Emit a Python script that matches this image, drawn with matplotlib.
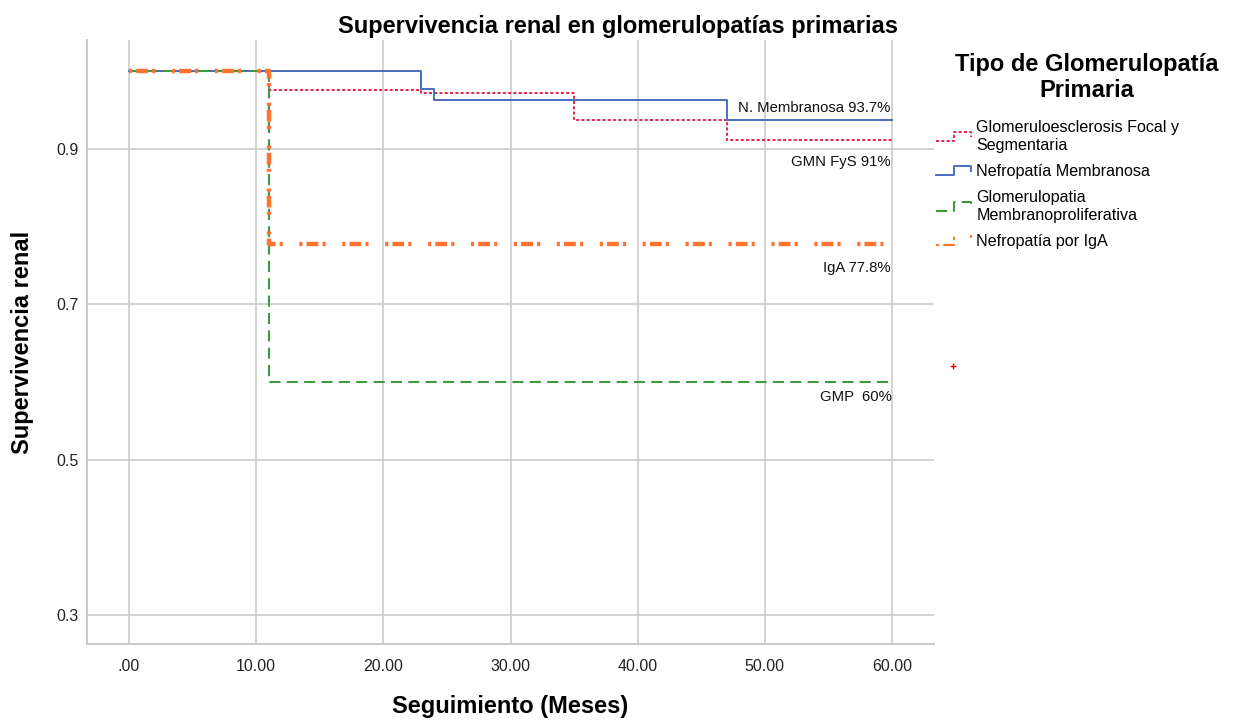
import matplotlib
matplotlib.use('Agg')
import matplotlib.pyplot as plt
from matplotlib.legend_handler import HandlerLine2D
from matplotlib.lines import Line2D

plt.rcParams['font.family'] = ['Liberation Sans', 'DejaVu Sans']
plt.rcParams['lines.scale_dashes'] = False

# ---- data ----
months_fys = [0, 11, 23, 35, 47, 60]
surv_fys = [1.0, 0.976, 0.972, 0.937, 0.911, 0.911]

months_mem = [0, 23, 24, 47, 60]
surv_mem = [1.0, 0.977, 0.963, 0.937, 0.937]

months_gmp = [0, 11, 60]
surv_gmp = [1.0, 0.600, 0.600]

months_iga = [0, 11, 60]
surv_iga = [1.0, 0.778, 0.778]

labels = ["Glomeruloesclerosis Focal y\nSegmentaria",
          "Nefropatía Membranosa",
          "Glomerulopatia\nMembranoproliferativa",
          "Nefropatía por IgA"]
legend_title = "Tipo de Glomerulopatía\nPrimaria"

x_ticks = [0, 10, 20, 30, 40, 50, 60]
x_ticklabels = [".00", "10.00", "20.00", "30.00", "40.00", "50.00", "60.00"]
y_ticks = [0.3, 0.5, 0.7, 0.9]
y_ticklabels = ["0.3", "0.5", "0.7", "0.9"]

annotations = [("N. Membranosa 93.7%", 59.9, 0.953),
               ("GMN FyS 91%", 59.9, 0.883),
               ("IgA 77.8%", 59.9, 0.747),
               ("GMP  60%", 60.0, 0.581)]

# ---- figure ----
W, H = 1236, 723
fig = plt.figure(figsize=(W/100, H/100), dpi=100)
ax = fig.add_axes([87/W, 1-644/H, (934-87)/W, (644-40)/H])

c_fys = '#e8254f'
c_mem = '#4c6dbf'
c_gmp = '#3f9a3f'
c_iga = '#ff7331'

l_fys, = ax.step(months_fys, surv_fys, where='post', color=c_fys, lw=1.4,
                 dashes=(2.2, 1.6), zorder=3)
l_mem, = ax.step(months_mem, surv_mem, where='post', color=c_mem, lw=1.4, zorder=3)
l_gmp, = ax.step(months_gmp, surv_gmp, where='post', color=c_gmp, lw=1.5,
                 dashes=(8, 4.5), zorder=4)
l_iga, = ax.step(months_iga, surv_iga, where='post', color=c_iga, lw=3.2,
                 dashes=(2.2, 3, 8.5, 3, 2.2, 12), zorder=5)

ax.set_xlim(-3.3, 63.3)
ax.set_ylim(0.263, 1.04)
ax.set_xticks(x_ticks)
ax.set_xticklabels(x_ticklabels, fontsize=11.5)
ax.set_yticks(y_ticks)
ax.set_yticklabels(y_ticklabels, fontsize=11.5)
ax.tick_params(length=0, pad=6, colors='#222222')
ax.tick_params(axis='x', pad=11)
ax.grid(True, color='#c8c8c8', lw=1.1, zorder=0)
ax.set_axisbelow(True)
for s in ['top', 'right']:
    ax.spines[s].set_visible(False)
for s in ['left', 'bottom']:
    ax.spines[s].set_color('#c8c8c8')
    ax.spines[s].set_linewidth(1.4)

for txt, xx, yy in annotations:
    ax.text(xx, yy, txt, ha='right', va='center', fontsize=10.7, color='#111111')

# stray censor mark outside plot
ax.plot([64.8], [0.62], marker='+', color='red', ms=5, mew=1, clip_on=False)

fig.text(0.5, 1-26/H, "Supervivencia renal en glomerulopatías primarias",
         ha='center', va='center', fontsize=17, fontweight='bold')
fig.text(510/W, 1-706/H, "Seguimiento (Meses)",
         ha='center', va='center', fontsize=17, fontweight='bold')
fig.text(23/W, 1-342/H, "Supervivencia renal", rotation=90,
         ha='center', va='center', fontsize=17, fontweight='bold')
fig.text(1087/W, 1-77.5/H, legend_title, ha='center', va='center',
         multialignment='center', linespacing=1.12,
         fontsize=17, fontweight='bold')


class StepHandler(HandlerLine2D):
    def create_artists(self, legend, orig_handle, xdescent, ydescent, width,
                       height, fontsize, trans):
        x0, y0 = -xdescent, -ydescent
        xs = [x0, x0 + 0.5*width, x0 + 0.5*width, x0 + width, x0 + width]
        ys = [y0 + 0.1*height, y0 + 0.1*height, y0 + 0.9*height,
              y0 + 0.9*height, y0 + 0.45*height]
        line = Line2D(xs, ys)
        self.update_prop(line, orig_handle, legend)
        line.set_transform(trans)
        if line.get_linewidth() > 2:
            line.set_linewidth(1.5)
        return [line]


handles = [l_fys, l_mem, l_gmp, l_iga]
leg = fig.legend(handles, labels, loc='upper left',
                 bbox_to_anchor=(936/W, 1-120/H),
                 frameon=False, fontsize=11.6, handlelength=2.2,
                 handletextpad=0.3, labelspacing=0.68, borderpad=0,
                 borderaxespad=0,
                 handler_map={Line2D: StepHandler()})
for t in leg.get_texts():
    t.set_linespacing(1.25)

fig.savefig('out.png', dpi=100)
